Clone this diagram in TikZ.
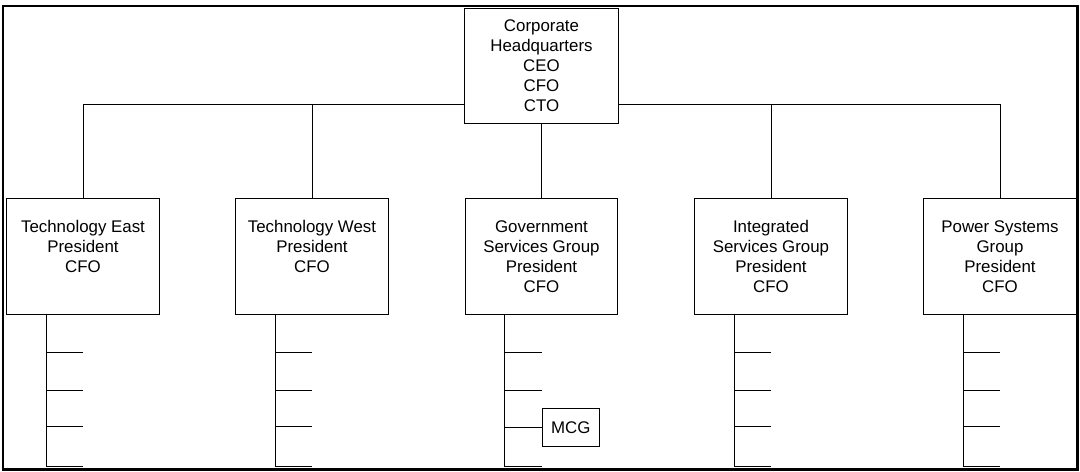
\documentclass[tikz,border=0pt]{standalone}
\usepackage{fontspec}
\setmainfont{Liberation Sans}
\usetikzlibrary{calc}
\tikzset{
  unit/.style={draw, fill=white, inner sep=0pt, align=center, minimum width=3.81cm,
    minimum height=2.875cm, font=\fontsize{12}{14.2}\selectfont},
  small/.style={draw, fill=white, inner sep=0pt, minimum width=1.43cm,
    minimum height=0.96cm, font=\fontsize{12}{14.2}\selectfont}
}

\begin{document}
\begin{tikzpicture}[x=0.025cm, y=-0.025cm, line width=0.7pt]
			%%%%% START %%%%%
			\useasboundingbox (0, 0) rectangle (1080, 472);
			\draw[line width=1.8pt] (3, 6) rectangle (1077.5, 469.5);
			
			\node[unit, minimum width=3.83cm, minimum height=2.85cm] (hq) at (541.5, 66) {Corporate\\Headquarters\\CEO\\CFO\\CTO};
			
			\node[unit] (te) at (83, 256.5) {Technology East\\President\\CFO\\~};
			\node[unit] (tw) at (312, 256.5) {Technology West\\President\\CFO\\~};
			\node[unit] (gs) at (541.5, 256.5) {Government\\Services Group\\President\\CFO};
			\node[unit] (is) at (771, 256.5) {Integrated\\Services Group\\President\\CFO};
			\node[unit] (ps) at (1000, 256.5) {Power Systems\\Group\\President\\CFO};
			
			\coordinate (bus) at (541.5, 104);
			\draw (te.north) |- (bus -| hq.west);
			\draw (tw.north) -- (tw.north |- bus);
			\draw (hq.east |- bus) -| (ps.north);
			\draw (is.north) -- (is.north |- bus);
			\draw (hq.south) -- (gs.north);
			
			\foreach \b in {te, tw, gs, is, ps} {
				\coordinate (\b-top) at ($(\b.south)+(-37, 0)$);
				\coordinate (\b-bot) at ($(\b.south)+(-37, 152)$);
				\draw (\b-top) -- (\b-bot);
			}
			
			\foreach \b in {te, tw, is, ps}
				\foreach \ty in {352, 390, 426, 466} {
					\coordinate (\b-\ty) at (\b.south |- 0, \ty);
					\draw (\b-top |- \b-\ty) -- (\b-\ty);
				}
			
			\foreach \ty in {352, 390, 466} {
				\coordinate (gs-\ty) at (gs.south |- 0, \ty);
				\draw (gs-top |- gs-\ty) -- (gs-\ty);
			}
			
			\node[small, anchor=west] (mcg) at (541.7, 427.5) {MCG};
			\draw (gs-top |- mcg.west) -- (mcg.west);
			%%%%% END %%%%%
\end{tikzpicture}
\end{document}
